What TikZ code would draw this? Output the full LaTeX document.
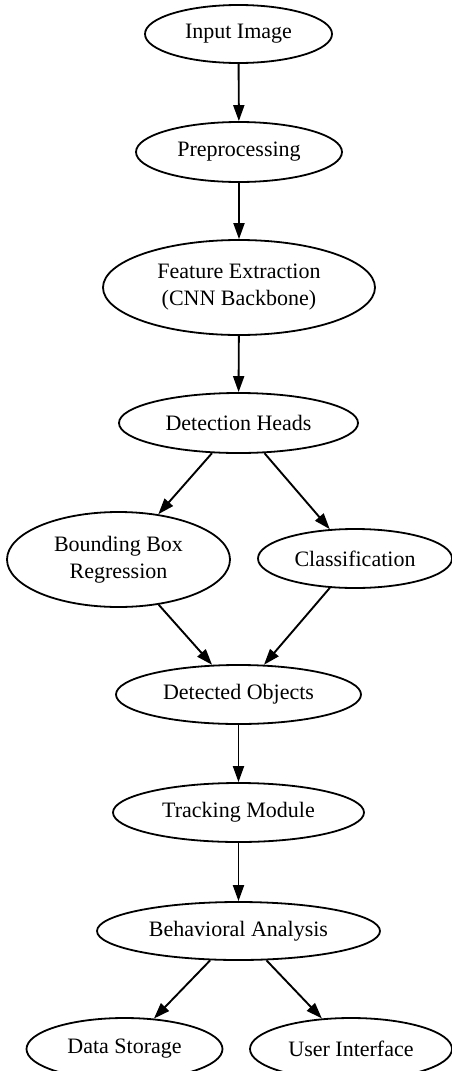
\documentclass[tikz,border=0pt]{standalone}
\usepackage{fontspec}
\setmainfont{Liberation Serif}
\usetikzlibrary{shapes.geometric,arrows.meta}
\begin{document}
\begin{tikzpicture}[x=1pt,y=-1pt,
  nd/.style={ellipse,draw=black,line width=1.8pt,inner sep=0pt,align=center,
    font=\fontsize{22}{27}\selectfont},
  edge/.style={line width=1.9pt,-{Triangle[length=16pt,width=11pt]}}]
\useasboundingbox (0,0) rectangle (452,1071);
\clip (0,0) rectangle (452,1071);
\node[nd,minimum width=187pt,minimum height=58pt] (in) at (238.5,34) {Input Image};
\node[nd,minimum width=206pt,minimum height=60pt] (pre) at (239,152) {Preprocessing};
\node[nd,minimum width=272pt,minimum height=95pt] (fe) at (239,287.5) {Feature Extraction\\(CNN Backbone)};
\node[nd,minimum width=239pt,minimum height=60pt] (dh) at (238.5,423) {Detection Heads};
\node[nd,minimum width=223pt,minimum height=95pt] (bb) at (118.5,559.5) {Bounding Box\\Regression};
\node[nd,minimum width=194pt,minimum height=59pt] (cl) at (355,558.5) {Classification};
\node[nd,minimum width=245pt,minimum height=59pt] (do) at (238.5,694.5) {Detected Objects};
\node[nd,minimum width=251pt,minimum height=59pt] (tm) at (238.5,812.5) {Tracking Module};
\node[nd,minimum width=283pt,minimum height=58pt] (ba) at (238.5,931) {Behavioral Analysis};
\node[nd,minimum width=196pt,minimum height=62pt] (ds) at (124.5,1049) {Data Storage};
\node[nd,minimum width=202pt,minimum height=62pt] (ui) at (351,1049) {User Interface};
\draw[edge] (in) -- (pre);
\draw[edge] (pre) -- (fe);
\draw[edge] (fe) -- (dh);
\draw[edge] (dh) -- (bb);
\draw[edge] (dh) -- (cl);
\draw[edge] (bb) -- (do);
\draw[edge] (cl) -- (do);
\draw[edge] (do) -- (tm);
\draw[edge] (tm) -- (ba);
\draw[edge] (ba) -- (ds);
\draw[edge] (ba) -- (ui);
\end{tikzpicture}
\end{document}
